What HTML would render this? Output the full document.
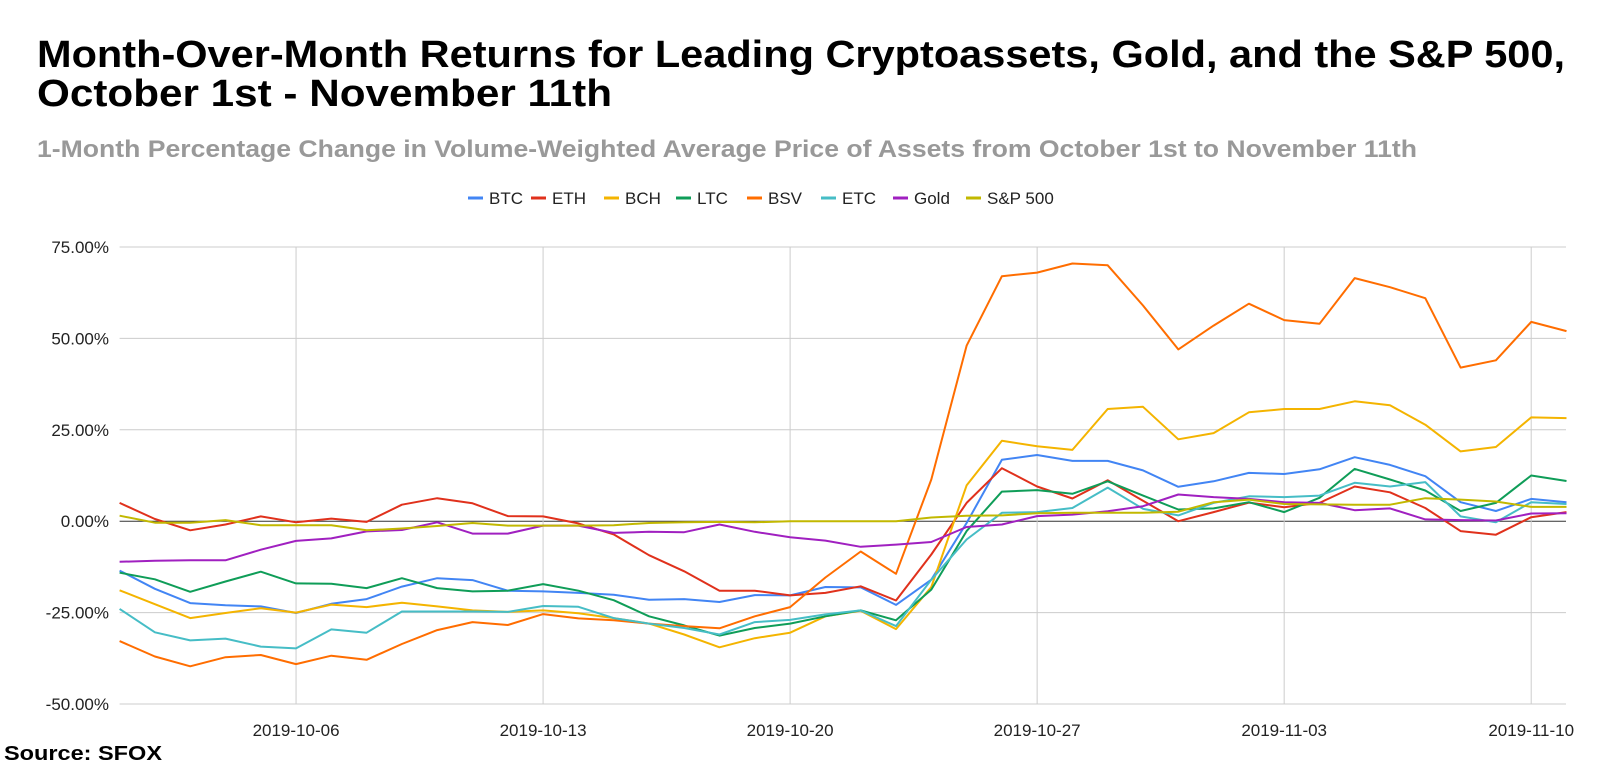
<!DOCTYPE html>
<html><head><meta charset="utf-8"><style>
body{margin:0;background:#fff;font-family:"Liberation Sans",Arial,sans-serif;}
svg{display:block}
</style></head><body>
<svg id="chart" width="1600" height="765" xmlns="http://www.w3.org/2000/svg">
<rect width="1600" height="765" fill="#fff"/>
<text x="37" y="67" font-size="38" font-weight="bold" fill="#000" textLength="1528" lengthAdjust="spacingAndGlyphs">Month-Over-Month Returns for Leading Cryptoassets, Gold, and the S&amp;P 500,</text>
<text x="37" y="106" font-size="38" font-weight="bold" fill="#000" textLength="575" lengthAdjust="spacingAndGlyphs">October 1st - November 11th</text>
<text x="37" y="157" font-size="24" font-weight="bold" fill="#999" textLength="1380" lengthAdjust="spacingAndGlyphs">1-Month Percentage Change in Volume-Weighted Average Price of Assets from October 1st to November 11th</text>
<g id="grid"></g><g id="series"></g><g id="legend"></g>
<text x="4" y="760" font-size="20" font-weight="bold" fill="#000" textLength="158" lengthAdjust="spacingAndGlyphs">Source: SFOX</text>
</svg>
<script>
const dayLabels=["2019-10-06","2019-10-13","2019-10-20","2019-10-27","2019-11-03","2019-11-10"];
const dayLabelIdx=[5,12,19,26,33,40];
const yTicks=[75,50,25,0,-25,-50];
const seriesNames=["BTC","ETH","BCH","LTC","BSV","ETC","Gold","S&P 500"];
const seriesColors=["#4285f4","#e0311c","#f4b400","#0f9d58","#ff6d00","#46bdc6","#a020c0","#c2b800"];
const btc=[-13.5,-18.5,-22.4,-23,-23.3,-25.1,-22.6,-21.3,-17.9,-15.6,-16.1,-19,-19.2,-19.6,-20.1,-21.5,-21.3,-22.1,-20.2,-20.3,-18,-18.1,-22.9,-16,-0.5,16.8,18.1,16.5,16.5,13.9,9.4,10.9,13.2,12.9,14.2,17.5,15.4,12.3,5.2,2.8,6.1,5.2];
const eth=[5,0.6,-2.5,-0.9,1.3,-0.3,0.7,-0.2,4.5,6.3,4.9,1.4,1.3,-0.6,-3.6,-9.3,-13.7,-19,-19,-20.3,-19.6,-17.8,-21.7,-9.1,5,14.5,9.5,6.2,11.2,5.6,0,2.5,5.1,3.8,5,9.5,7.9,3.6,-2.7,-3.7,1.1,2.5];
const bch=[-18.9,-22.7,-26.5,-25.1,-23.8,-25,-22.8,-23.5,-22.3,-23.3,-24.4,-24.8,-24.4,-25.2,-26.5,-28,-31,-34.5,-32,-30.5,-26,-24.5,-29.5,-18,9.8,22,20.5,19.5,30.7,31.3,22.4,24.1,29.8,30.7,30.7,32.8,31.7,26.4,19.1,20.3,28.4,28.2];
const ltc=[-14.1,-15.9,-19.3,-16.5,-13.8,-17,-17.1,-18.3,-15.6,-18.3,-19.2,-19,-17.2,-19,-21.6,-26,-28.5,-31.3,-29.2,-28,-26,-24.4,-27.1,-18.7,-2.7,8.1,8.5,7.5,10.9,7,3.2,3.5,5.2,2.5,6.4,14.3,11.4,8.4,2.8,5,12.5,11];
const bsv=[-32.8,-37,-39.7,-37.2,-36.6,-39.1,-36.8,-37.9,-33.6,-29.8,-27.6,-28.4,-25.4,-26.6,-27.1,-28,-28.7,-29.3,-26,-23.5,-15.4,-8.3,-14.4,11.4,48,67,68,70.5,70,59,47,53.5,59.5,55,54,66.5,64,61,42,44,54.5,52];
const etc=[-24,-30.4,-32.6,-32.1,-34.3,-34.8,-29.6,-30.5,-24.7,-24.7,-24.7,-24.8,-23.2,-23.4,-26.5,-28,-29.2,-31,-27.6,-27,-25.5,-24.4,-28.7,-16,-5,2.3,2.5,3.6,9.2,3.4,1.6,5,6.8,6.6,7,10.5,9.5,10.7,1.3,-0.3,5.2,4.7];
const gold=[-11.1,-10.8,-10.7,-10.7,-7.8,-5.4,-4.7,-2.8,-2.4,-0.3,-3.4,-3.4,-1.2,-1.2,-3.2,-2.9,-3,-0.9,-2.9,-4.4,-5.3,-7,-6.4,-5.7,-1.6,-0.9,1.4,1.8,2.7,4.1,7.3,6.6,6.1,5.2,5,3,3.5,0.5,0.3,0.2,2.1,2.2];
const sp=[1.5,-0.4,-0.4,0.3,-1.1,-1.1,-1.1,-2.5,-2,-1.3,-0.5,-1.2,-1.2,-1.2,-1.1,-0.5,-0.3,-0.2,-0.3,0,0,0,0,1,1.5,1.6,2.2,2.3,2.3,2.3,2.6,5.2,5.9,4.7,4.6,4.5,4.5,6.3,5.9,5.4,3.9,3.9];
const allSeries=[btc,eth,bch,ltc,bsv,etc,gold,sp];
const NS="http://www.w3.org/2000/svg";
const X0=119.6,DX=35.29,XR=1566,YT=247,YB=704;
const xs=i=>X0+DX*i;
const ys=v=>YB-(v+50)*(YB-YT)/125;
function mk(t,a,p){const e=document.createElementNS(NS,t);for(const k in a)e.setAttribute(k,a[k]);p.appendChild(e);return e;}
const grid=document.getElementById('grid');
yTicks.forEach(v=>{
  const l=mk('line',{x1:X0,x2:XR,y1:ys(v),y2:ys(v),stroke:v===0?'#333':'#ccc','stroke-width':1},grid);
  
  
  const t=mk('text',{x:109,y:ys(v)+6,'text-anchor':'end','font-size':17,fill:'#222'},grid);
  t.textContent=v.toFixed(2)+'%';
  
  
});
dayLabelIdx.forEach((d,k)=>{
  const l=mk('line',{x1:xs(d),x2:xs(d),y1:YT,y2:YB,stroke:'#ccc','stroke-width':1},grid);
  
  
  const t=mk('text',{x:xs(d),y:736,'text-anchor':'middle','font-size':17,fill:'#222'},grid);
  t.textContent=dayLabels[k];
  
  
});
const sg=document.getElementById('series');
allSeries.forEach((s,k)=>{
  const p=mk('polyline',{points:s.map((v,i)=>xs(i).toFixed(1)+','+ys(v).toFixed(1)).join(' '),fill:'none',stroke:seriesColors[k],'stroke-width':2,'stroke-linejoin':'round'},sg);
  
  
});
const lg=document.getElementById('legend');
const lx=[489,552,625,697,768,842,914,987];
seriesNames.forEach((n,k)=>{
  const g=mk('g',{},lg);
  
  
  mk('line',{x1:lx[k]-21,x2:lx[k]-6,y1:198,y2:198,stroke:seriesColors[k],'stroke-width':3},g);
  const t=mk('text',{x:lx[k],y:204,'font-size':17,fill:'#222'},g);
  t.textContent=n;
});
</script>
</body></html>
